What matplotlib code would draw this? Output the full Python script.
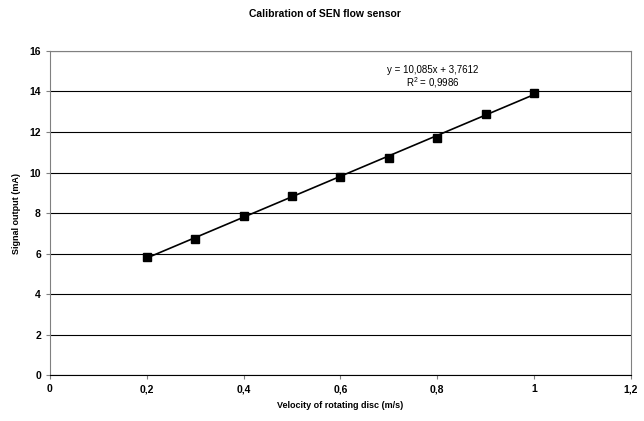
import matplotlib.pyplot as plt
import numpy as np

plt.rcParams['font.family'] = ['Liberation Sans', 'DejaVu Sans']

velocity = [0.2, 0.3, 0.4, 0.5, 0.6, 0.7, 0.8, 0.9, 1.0]
signal = [5.85, 6.7, 7.85, 8.85, 9.8, 10.7, 11.7, 12.9, 13.9]
slope = 10.085
intercept = 3.7612
r2 = 0.9986

fig = plt.figure(figsize=(6.44, 4.21), dpi=100)
ax = fig.add_axes([0.0776, 0.109, 0.902, 0.77])

# trendline
xt = np.array([velocity[0], velocity[-1]])
ax.plot(xt, slope * xt + intercept, color="black", lw=1.2, zorder=3)
ax.plot(velocity, signal, ls="none", marker="s", ms=5.8, color="black", zorder=4)

ax.set_xlim(0, 1.2)
ax.set_ylim(0, 16)
ax.set_xticks(np.arange(0, 1.21, 0.2))
ax.set_yticks(np.arange(0, 17, 2))
ax.set_xticklabels(["0", "0,2", "0,4", "0,6", "0,8", "1", "1,2"])
ax.set_yticklabels([str(v) for v in range(0, 17, 2)])
ax.yaxis.grid(True, color="black", lw=0.8)
ax.set_axisbelow(True)
for s in ax.spines.values():
    s.set_color("#808080")
ax.spines["bottom"].set_color("black")
ax.tick_params(labelsize=7.5, length=3, width=0.8, color="#808080")
for lab in ax.get_xticklabels() + ax.get_yticklabels():
    lab.set_fontweight("bold")

ax.set_xlabel("Velocity of rotating disc (m/s)", fontsize=6.5, fontweight="bold", labelpad=5)
ax.set_ylabel("Signal output (mA)", fontsize=6.5, fontweight="bold", labelpad=6)
fig.text(0.505, 0.967, "Calibration of SEN flow sensor", ha="center", va="center",
         fontsize=7.5, fontweight="bold")

ax.text(0.791, 15.07, "y = 10,085x + 3,7612", ha="center", va="center", fontsize=7)
ax.text(0.791, 14.43, "$\\mathregular{R^2}$ = 0,9986", ha="center", va="center", fontsize=7)

fig.savefig("out.png", dpi=100)
